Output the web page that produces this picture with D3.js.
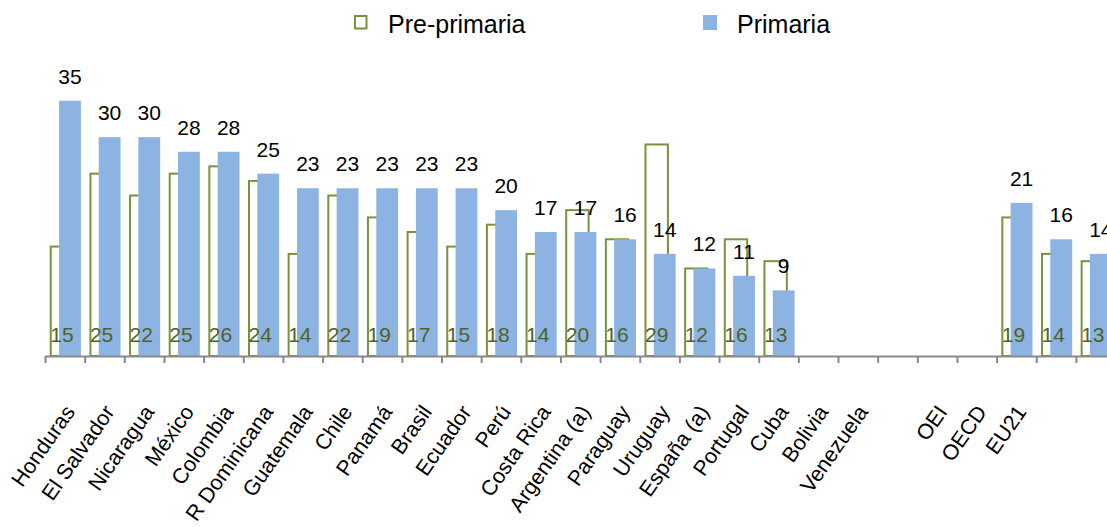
<!DOCTYPE html>
<html>
<head>
<meta charset="utf-8">
<script src="https://cdn.jsdelivr.net/npm/d3@7"></script>
<style>
  html, body { margin: 0; padding: 0; background: #fff; }
  svg { display: block; font-family: "Liberation Sans", Arial, sans-serif; }
</style>
</head>
<body>
<svg id="chart" width="1107" height="527"></svg>
<script>
// Categories along the x axis (empty strings are unlabelled slots)
const categories = [
  "Honduras", "El Salvador", "Nicaragua", "México", "Colombia", "R Dominicana",
  "Guatemala", "Chile", "Panamá", "Brasil", "Ecuador", "Perú", "Costa Rica",
  "Argentina (a)", "Paraguay", "Uruguay", "España (a)", "Portugal", "Cuba",
  "Bolivia", "Venezuela", "", "OEI", "OECD", "EU21", "", ""
];
// Pupils per teacher, pre-primary education
const prePrimaria = [15, 25, 22, 25, 26, 24, 14, 22, 19, 17, 15, 18, 14, 20, 16, 29, 12, 16, 13,
  null, null, null, null, null, 19, 14, 13];
// Pupils per teacher, primary education
const primaria = [35, 30, 30, 28, 28, 25, 23, 23, 23, 23, 23, 20, 17, 17, 16, 14, 12, 11, 9,
  null, null, null, null, null, 21, 16, 14];
const seriesNames = ["Pre-primaria", "Primaria"];

const GREEN = "#77933c", GREEN_TEXT = "#4f6228", BLUE = "#8db3e2", AXIS = "#898989";

const svg = d3.select("#chart");
const step = 39.65;
const x0 = 45, baseY = 356;

const x = d3.scaleBand()
  .domain(d3.range(categories.length))
  .range([x0, x0 + step * categories.length])
  .paddingInner(0).paddingOuter(0);
const bw = x.bandwidth();

const y = d3.scaleLinear().domain([0, 40]).range([baseY, baseY - 40 * 7.294]);

// bar geometry inside each band (the two series overlap)
const preOff = bw * 0.145, preW = bw * 0.565;
const primOff = bw * 0.355, primW = bw * 0.55;

const rows = categories.map((c, i) => ({ i, c, pre: prePrimaria[i], prim: primaria[i] }));

// Pre-primaria: white bars with green outline
svg.append("g").selectAll("rect")
  .data(rows.filter(d => d.pre != null))
  .join("rect")
  .attr("x", d => x(d.i) + preOff)
  .attr("y", d => y(d.pre))
  .attr("width", preW)
  .attr("height", d => baseY - y(d.pre))
  .attr("fill", "#fff")
  .attr("stroke", GREEN)
  .attr("stroke-width", 2);

// Primaria: solid blue bars drawn on top
svg.append("g").selectAll("rect")
  .data(rows.filter(d => d.prim != null))
  .join("rect")
  .attr("x", d => x(d.i) + primOff)
  .attr("y", d => y(d.prim))
  .attr("width", primW)
  .attr("height", d => baseY - y(d.prim))
  .attr("fill", BLUE);

// x axis line and ticks at category boundaries
const xb = d3.scaleLinear().domain([0, categories.length]).range([x0, x0 + step * categories.length]);
const axis = svg.append("g")
  .attr("transform", `translate(0,${baseY})`)
  .call(d3.axisBottom(xb).tickValues(d3.range(categories.length + 1)).tickFormat("").tickSize(7).tickSizeOuter(0));
axis.select(".domain").attr("stroke", AXIS).attr("stroke-width", 2);
axis.selectAll(".tick line").attr("stroke", AXIS).attr("stroke-width", 2);

// Primaria value labels above bars
svg.append("g").selectAll("text")
  .data(rows.filter(d => d.prim != null))
  .join("text")
  .attr("x", d => x(d.i) + primOff + primW / 2)
  .attr("y", d => y(d.prim) - 17)
  .attr("text-anchor", "middle")
  .attr("font-size", 21)
  .attr("fill", "#000")
  .text(d => d.prim);

// Pre-primaria value labels at the foot of the bars
svg.append("g").selectAll("text")
  .data(rows.filter(d => d.pre != null))
  .join("text")
  .attr("x", d => x(d.i) + preOff + preW / 2)
  .attr("y", baseY - 14.5)
  .attr("text-anchor", "middle")
  .attr("font-size", 21)
  .attr("fill", GREEN_TEXT)
  .text(d => d.pre);

// Rotated category labels
svg.append("g").selectAll("text")
  .data(rows.filter(d => d.c !== ""))
  .join("text")
  .attr("transform", d => `translate(${x(d.i) + bw / 2 + 11},${baseY + 56}) rotate(-55)`)
  .attr("text-anchor", "end")
  .attr("font-size", 21.5)
  .attr("fill", "#000")
  .text(d => d.c);

// Legend
const legend = svg.append("g");
legend.append("rect").attr("x", 355).attr("y", 16).attr("width", 11.5).attr("height", 12.5)
  .attr("fill", "#fff").attr("stroke", GREEN).attr("stroke-width", 2);
legend.append("text").attr("x", 388).attr("y", 33).attr("font-size", 25).attr("fill", "#000").text(seriesNames[0]);
legend.append("rect").attr("x", 703).attr("y", 15).attr("width", 14).attr("height", 15).attr("fill", BLUE);
legend.append("text").attr("x", 737).attr("y", 33).attr("font-size", 25).attr("fill", "#000").text(seriesNames[1]);
</script>
</body>
</html>
